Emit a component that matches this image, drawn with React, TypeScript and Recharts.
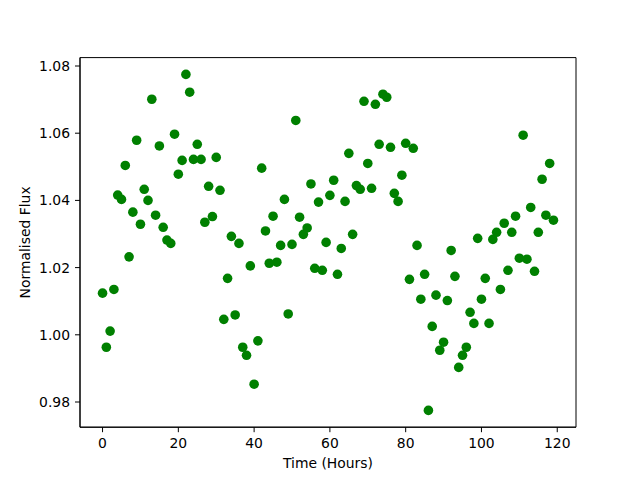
import { ScatterChart, Scatter, XAxis, YAxis, ReferenceArea } from "recharts";

// hours since start
const hours = [
  0, 1, 2, 3, 4, 5, 6, 7, 8, 9, 10, 11, 12, 13, 14, 15, 16, 17, 18, 19,
  20, 21, 22, 23, 24, 25, 26, 27, 28, 29, 30, 31, 32, 33, 34, 35, 36, 37, 38, 39,
  40, 41, 42, 43, 44, 45, 46, 47, 48, 49, 50, 51, 52, 53, 54, 55, 56, 57, 58, 59,
  60, 61, 62, 63, 64, 65, 66, 67, 68, 69, 70, 71, 72, 73, 74, 75, 76, 77, 78, 79,
  80, 81, 82, 83, 84, 85, 86, 87, 88, 89, 90, 91, 92, 93, 94, 95, 96, 97, 98, 99,
  100, 101, 102, 103, 104, 105, 106, 107, 108, 109, 110, 111, 112, 113, 114, 115, 116, 117, 118, 119,
];

const flux = [
  1.0124, 0.9963, 1.0011, 1.0135, 1.0416, 1.0403, 1.0504, 1.0232, 1.0365, 1.0579,
  1.0329, 1.0433, 1.04, 1.0701, 1.0356, 1.0562, 1.032, 1.0282, 1.0272, 1.0597,
  1.0478, 1.0519, 1.0775, 1.0722, 1.0522, 1.0567, 1.0522, 1.0335, 1.0442, 1.0352,
  1.0528, 1.043, 1.0046, 1.0168, 1.0293, 1.0059, 1.0272, 0.9963, 0.9939, 1.0205,
  0.9853, 0.9982, 1.0496, 1.0309, 1.0213, 1.0353, 1.0216, 1.0266, 1.0403, 1.0062,
  1.0269, 1.0638, 1.035, 1.0299, 1.0318, 1.0449, 1.0198, 1.0395, 1.0192, 1.0275,
  1.0415, 1.046, 1.018, 1.0257, 1.0397, 1.054, 1.0299, 1.0444, 1.0433, 1.0695,
  1.051, 1.0436, 1.0686, 1.0567, 1.0716, 1.0707, 1.0558, 1.0421, 1.0397, 1.0475,
  1.057, 1.0165, 1.0555, 1.0266, 1.0106, 1.018, 0.9775, 1.0025, 1.0118, 0.9954,
  0.9978, 1.0102, 1.0251, 1.0174, 0.9903, 0.9939, 0.9963, 1.0067, 1.0034, 1.0287,
  1.0106, 1.0168, 1.0034, 1.0284, 1.0305, 1.0135, 1.0332, 1.0192, 1.0305, 1.0353,
  1.0228, 1.0594, 1.0225, 1.0379, 1.0189, 1.0305, 1.0463, 1.0356, 1.051, 1.0341,
];

const xTicks = [0, 20, 40, 60, 80, 100, 120];
const yTicks = [0.98, 1.0, 1.02, 1.04, 1.06, 1.08];

const xDomain = [-5.95, 124.95];
const yDomain = [0.9725, 1.0825];

const font = "DejaVu Sans";

export default function App() {
  const points = hours.map((h, i) => ({ x: h, y: flux[i] }));

  return (
    <div style={{ position: "absolute", left: 0, top: 0, background: "#fff" }}>
      <ScatterChart width={640} height={480} margin={{ top: 57.6, right: 64, bottom: 0, left: 0 }}>
        <XAxis
          type="number"
          dataKey="x"
          domain={xDomain}
          allowDataOverflow
          ticks={xTicks}
          height={52.8}
          stroke="#000"
          tickSize={5}
          tickMargin={6}
          tick={{ fill: "#000", fontSize: 13.9, fontFamily: font }}
          label={{
            value: "Time (Hours)",
            position: "insideBottom",
            offset: 12,
            style: { fill: "#000", fontSize: 13.9, fontFamily: font },
          }}
        />
        <YAxis
          type="number"
          dataKey="y"
          domain={yDomain}
          allowDataOverflow
          ticks={yTicks}
          width={80}
          stroke="#000"
          tickSize={5}
          tickMargin={5}
          tickFormatter={(v: number) => v.toFixed(2)}
          tick={{ fill: "#000", fontSize: 13.9, fontFamily: font }}
          label={{
            value: "Normalised Flux",
            angle: -90,
            position: "insideLeft",
            offset: 25,
            style: { fill: "#000", fontSize: 13.9, fontFamily: font, textAnchor: "middle" },
          }}
        />
        <ReferenceArea
          x1={xDomain[0]}
          x2={xDomain[1]}
          y1={yDomain[0]}
          y2={yDomain[1]}
          fill="none"
          stroke="#000"
          strokeWidth={1}
        />
        <Scatter
          data={points}
          isAnimationActive={false}
          shape={(p: any) => <circle cx={p.cx} cy={p.cy} r={4.8} fill="#008000" />}
        />
      </ScatterChart>
    </div>
  );
}
